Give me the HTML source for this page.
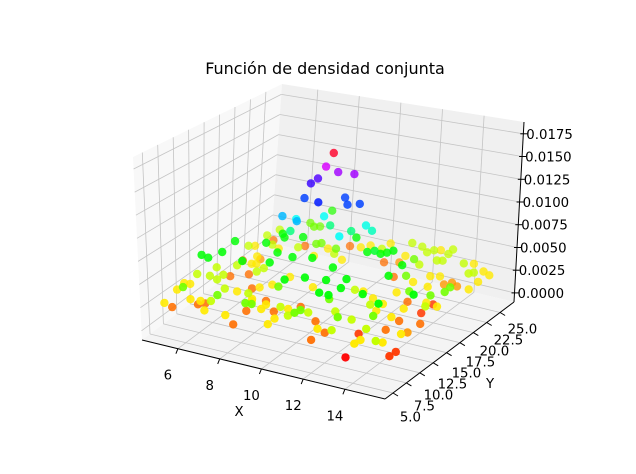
<!DOCTYPE html>
<html><head><meta charset="utf-8"><style>
html,body{margin:0;padding:0;background:#fff;}
svg{display:block;font-family:"DejaVu Sans","Liberation Sans",sans-serif;}
</style></head><body>
<svg id="chart" width="636" height="474" viewBox="0 0 636 474">
<text x="325" y="74" text-anchor="middle" font-size="16" fill="#000">Función de densidad conjunta</text>
<g id="panes"></g>
<g id="grid"></g>
<g id="axes"></g>
<g id="points"></g>
<text x="239" y="416" text-anchor="middle" font-size="13.3">X</text>
<text x="490" y="388" text-anchor="middle" font-size="13.3">Y</text>
</svg>
<script>
const xTicks=[6,8,10,12,14];
const yTicks=[5,7.5,10,12.5,15,17.5,20,22.5,25];
const yTickLabels=["5.0","7.5","10.0","12.5","15.0","17.5","20.0","22.5","25.0"];
const zTicks=[0,0.0025,0.005,0.0075,0.01,0.0125,0.015,0.0175];
const zTickLabels=["0.0000","0.0025","0.0050","0.0075","0.0100","0.0125","0.0150","0.0175"];
const xs=[9.76,9.8,10.18,10.9,9.27,9.16,9.0,10.06,10.44,10.98,11.37,8.47,8.6,9.3,9.44,7.68,11.4,11.66,11.2,9.41,10.5,8.3,
7.11,7.45,7.66,5.93,7.42,5.78,5.19,8.34,7.69,8.47,8.61,8.23,9.44,8.26,10.3,9.35,9.61,6.63,7.53,8.11,9.18,9.32,11.5,11.96,10.64,10.23,12.08,12.25,12.37,10.31,11.09,11.41,11.43,11.99,12.46,12.61,12.84,12.83,13.25,13.47,13.32,13.25,14.38,14.3,15.09,15.23,15.05,15.46,15.4,11.4,13.5,13.61,13.45,13.05,13.0,14.41,15.57,13.83,13.37,13.73,13.83,14.03,15.73,15.67,14.4,15.45,15.4,12.27,12.57,11.85,11.75,11.13,11.59,12.05,12.52,10.68,9.7,8.34,10.06,9.42,8.1,9.08,9.84,8.28,8.56,7.4,7.33,6.03,5.9,6.44,6.26,7.49,5.11,6.28,5.45,6.29,6.31,5.86,5.65,6.07,5.67,6.25,5.3,4.83,5.09,6.0,4.91,5.9,6.35,7.68,7.08,7.18,6.86,7.78,8.0,8.11,8.18,6.11,5.66,5.45,7.33,6.08,6.45,6.45,12.4,12.45,13.16,14.61,13.9,
5.15,4.92,5.71,5.93,7.24,6.99,7.99,8.0,7.79,9.13,9.4,8.2,8.91,8.97,8.82,10.07,9.94,10.8,11.43,11.5,11.37,9.56,9.95,10.0,10.82,12.04,11.73,13.16,12.3,13.23,13.32,11.6,11.94,13.02,12.67,14.34,14.18,14.15,15.33,15.11,13.79,14.9,14.92,14.45,13.2,14.81,13.11,13.22,13.7,14.1,13.83,14.11,15.33,14.97,14.74,13.9,15.28,15.2];
const ys=[17.6,16.2,16.9,17.1,16.7,15.9,15.4,14.0,17.2,15.7,16.4,13.5,15.4,13.0,17.2,25.2,17.4,17.5,13.5,18.4,18.1,15.5,
23.5,22.9,23.2,22.5,17.4,20.8,24.3,17.6,16.7,19.5,19.9,22.6,19.4,26.6,19.8,24.3,25.1,24.6,19.8,20.5,20.1,21.0,17.3,16.9,23.2,26.4,17.5,18.0,18.7,25.0,24.8,24.6,25.7,25.4,24.5,25.2,20.7,21.7,23.3,23.5,25.1,26.2,23.9,26.1,22.1,22.5,25.0,24.5,22.7,22.6,16.1,13.3,17.0,19.8,17.0,14.0,10.5,19.5,21.7,22.1,22.5,23.2,15.4,16.6,22.7,20.8,14.1,10.8,8.7,13.8,15.7,12.6,9.7,6.8,6.7,9.3,14.3,15.3,8.0,9.2,13.0,13.0,13.7,13.3,10.9,14.1,13.1,16.6,19.2,16.4,16.2,10.0,19.0,13.5,15.4,11.0,9.8,10.2,12.2,9.2,9.5,11.0,10.0,9.4,9.5,4.9,7.8,6.5,6.6,4.8,8.3,10.1,14.0,11.9,12.2,9.3,8.4,13.8,17.9,19.9,14.8,17.9,19.2,20.4,27.3,14.8,18.4,16.3,20.3,
4.6,6.8,8.5,9.0,5.2,4.9,4.9,6.2,9.4,4.4,4.5,8.9,8.8,7.7,10.5,7.1,8.9,5.7,4.6,5.4,7.2,12.6,6.4,5.0,10.5,6.3,8.7,4.7,8.6,5.6,7.7,6.7,8.9,7.5,11.3,6.5,6.0,5.0,4.5,6.5,12.0,8.4,9.5,7.4,11.5,7.1,14.1,12.5,8.4,11.9,14.3,14.1,9.0,11.5,14.7,18.1,13.6,16.0];
const zs=[0.0165,0.0155,0.0148,0.0148,0.0138,0.0135,0.012,0.0125,0.012,0.012,0.012,0.0105,0.0095,0.0105,0.0095,0.006,0.0093,0.0088,0.0095,0.008,0.008,0.008,
0.005,0.005,0.005,0.004,0.0065,0.004,0.0015,0.0065,0.0065,0.005,0.005,0.003,0.005,0.0015,0.0065,0.003,0.003,0.0015,0.004,0.003,0.004,0.003,0.0065,0.007,0.004,0.003,0.0065,0.0065,0.0065,0.0015,0.002,0.003,0.004,0.004,0.004,0.004,0.005,0.004,0.004,0.004,0.004,0.004,0.004,0.003,0.004,0.004,0.003,0.003,0.003,0.0015,0.0065,0.0065,0.005,0.003,0.003,0.005,0.0065,0.003,0.003,0.003,0.002,0.002,0.005,0.005,0.002,0.003,0.005,0.0065,0.0065,0.004,0.003,0.0065,0.0065,0.0065,0.0065,0.0065,0.003,0.003,0.0065,0.005,0.003,0.0065,0.0065,0.0065,0.0065,0.004,0.004,0.0015,0.002,0.003,0.003,0.0065,0.0015,0.004,0.0015,0.004,0.004,0.004,0.004,0.0065,0.0065,0.0065,0.004,0.003,0.003,0.005,0.003,0.003,0.003,0.005,0.004,0.003,0.0015,0.003,0.0015,0.003,0.004,0.0065,0.004,0.003,0.0065,0.003,0.004,0.003,0.003,0.003,0.0015,0.003,0.0008,
0.003,0.0015,0.0015,0.0015,0.004,0.003,0.003,0.0015,0.0015,0.005,0.005,0.003,0.003,0.003,0.0015,0.004,0.003,0.004,0.005,0.005,0.004,0.0015,0.003,0.003,0.0015,0.003,0.0015,0.004,0.004,0.005,0.004,0.0015,0.005,0.0001,0.0008,0.004,0.003,0.003,0.004,0.003,0.0015,0.0008,0.0008,0.005,0.004,0.0065,0.003,0.003,0.0065,0.003,0.0015,0.003,0.003,0.002,0.0015,0.0008,0.004,0.003];

const XMIN=4.28,XMAX=15.92,YMIN=3.5,YMAX=27.6,ZMIN=-0.001,ZMAX=0.0188;
const BOT=[[142,340],[385,399],[514,302],[271,243]];
const TOP=[[133,157],[375,195],[524,122],[282,84]];
function bil(q,u,v){
  return [q[0][0]*(1-u)*(1-v)+q[1][0]*u*(1-v)+q[2][0]*u*v+q[3][0]*(1-u)*v,
          q[0][1]*(1-u)*(1-v)+q[1][1]*u*(1-v)+q[2][1]*u*v+q[3][1]*(1-u)*v];
}
function P(x,y,z){
  const u=(x-XMIN)/(XMAX-XMIN),v=(y-YMIN)/(YMAX-YMIN),w=(z-ZMIN)/(ZMAX-ZMIN);
  const b=bil(BOT,u,v),t=bil(TOP,u,v);
  return [b[0]+(t[0]-b[0])*w,b[1]+(t[1]-b[1])*w];
}
const NS='http://www.w3.org/2000/svg';
function mk(tag,attrs,parent){const e=document.createElementNS(NS,tag);for(const k in attrs)e.setAttribute(k,attrs[k]);parent.appendChild(e);return e;}
function poly(pts){return pts.map(p=>p[0].toFixed(1)+','+p[1].toFixed(1)).join(' ');}
const gP=document.getElementById('panes'),gG=document.getElementById('grid'),gA=document.getElementById('axes'),gPt=document.getElementById('points');

let e;
e=mk('polygon',{points:poly([P(XMIN,YMIN,ZMIN),P(XMIN,YMAX,ZMIN),P(XMIN,YMAX,ZMAX),P(XMIN,YMIN,ZMAX)]),fill:'#f8f8f8'},gP);


e=mk('polygon',{points:poly([P(XMIN,YMAX,ZMIN),P(XMAX,YMAX,ZMIN),P(XMAX,YMAX,ZMAX),P(XMIN,YMAX,ZMAX)]),fill:'#f0f0f0'},gP);


e=mk('polygon',{points:poly([P(XMIN,YMIN,ZMIN),P(XMAX,YMIN,ZMIN),P(XMAX,YMAX,ZMIN),P(XMIN,YMAX,ZMIN)]),fill:'#f4f4f4'},gP);



function line(a,b,parent,stroke,sw,name){
  const l=mk('line',{x1:a[0].toFixed(1),y1:a[1].toFixed(1),x2:b[0].toFixed(1),y2:b[1].toFixed(1),stroke:stroke,'stroke-width':sw},parent);
  
  
  return l;
}
const GC='#c4c4c4';
xTicks.forEach(x=>{
  line(P(x,YMIN,ZMIN),P(x,YMAX,ZMIN),gG,GC,0.8,'x-grid-floor');
  line(P(x,YMAX,ZMIN),P(x,YMAX,ZMAX),gG,GC,0.8,'x-grid-back');
});
yTicks.forEach(y=>{
  line(P(XMIN,y,ZMIN),P(XMAX,y,ZMIN),gG,GC,0.8,'y-grid-floor');
  line(P(XMIN,y,ZMIN),P(XMIN,y,ZMAX),gG,GC,0.8,'y-grid-left');
});
zTicks.forEach(z=>{
  line(P(XMIN,YMIN,z),P(XMIN,YMAX,z),gG,GC,0.8,'z-grid-left');
  line(P(XMIN,YMAX,z),P(XMAX,YMAX,z),gG,GC,0.8,'z-grid-back');
});

line(P(XMIN,YMIN,ZMIN),P(XMAX,YMIN,ZMIN),gA,'#000',1,'x-axis-line');
line(P(XMAX,YMIN,ZMIN),P(XMAX,YMAX,ZMIN),gA,'#000',1,'y-axis-line');
line(P(XMAX,YMAX,ZMIN),P(XMAX,YMAX,ZMAX),gA,'#000',1,'z-axis-line');

xTicks.forEach(x=>{
  const p=P(x,YMIN,ZMIN);
  line(p,[p[0]-2,p[1]+5],gA,'#000',1,'x-tick');
  const t=mk('text',{x:(p[0]-10).toFixed(1),y:(p[1]+31).toFixed(1),'text-anchor':'middle','font-size':'13.3'},gA);
  t.textContent=String(x);
  
  
});
yTicks.forEach((y,i)=>{
  const p=P(XMAX,y,ZMIN);
  const v=(y-YMIN)/(YMAX-YMIN);
  line(p,[p[0]+5,p[1]+3],gA,'#000',1,'y-tick');
  const t=mk('text',{x:(p[0]+17+6*v).toFixed(1),y:(p[1]+29-9*v).toFixed(1),'text-anchor':'middle','font-size':'13.3'},gA);
  t.textContent=yTickLabels[i];
  
  
});
zTicks.forEach((z,i)=>{
  const p=P(XMAX,YMAX,z);
  line([p[0]-3,p[1]],[p[0]+4,p[1]],gA,'#000',1,'z-tick');
  const t=mk('text',{x:(p[0]+3).toFixed(1),y:(p[1]+5).toFixed(1),'font-size':'13.3'},gA);
  t.textContent=zTickLabels[i];
  
  
});

const zlo=Math.min(...zs),zhi=Math.max(...zs);
const idx=xs.map((_,i)=>i);
const depth=i=>{const u=(xs[i]-XMIN)/(XMAX-XMIN),v=(ys[i]-YMIN)/(YMAX-YMIN);return u*0.45-v;};
idx.sort((a,b)=>depth(a)-depth(b));
const dmin=Math.min(...idx.map(depth)),dmax=Math.max(...idx.map(depth));
idx.forEach(i=>{
  const p=P(xs[i],ys[i],zs[i]);
  let hue=(zs[i]-zlo)/(zhi-zlo)*310;
  if(i===0) hue=350;
  const op=0.7+0.3*(depth(i)-dmin)/(dmax-dmin);
  const c=mk('circle',{cx:p[0].toFixed(1),cy:p[1].toFixed(1),r:4.2,fill:'hsl('+hue.toFixed(0)+',100%,50%)','fill-opacity':op.toFixed(2)},gPt);
  
  
});
</script>
</body></html>
